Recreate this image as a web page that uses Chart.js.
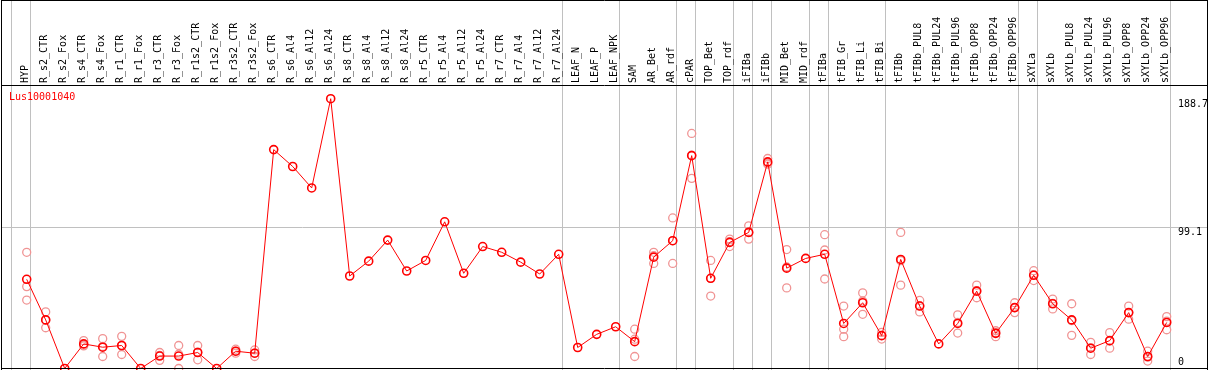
<!DOCTYPE html>
<html>
<head>
<meta charset="utf-8">
<script src="https://cdn.jsdelivr.net/npm/chart.js@4/dist/chart.umd.min.js"></script>
<style>
  html, body { margin: 0; padding: 0; background: #ffffff; }
  #wrap { width: 1209px; height: 370px; }
</style>
</head>
<body>
<div id="wrap"><canvas id="c" width="1209" height="370"></canvas></div>
<script>
const chartTitle = "Lus10001040";

const categories = [
  "HYP","R_s2_CTR","R_s2_Fox","R_s4_CTR","R_s4_Fox","R_r1_CTR","R_r1_Fox","R_r3_CTR","R_r3_Fox",
  "R_r1s2_CTR","R_r1s2_Fox","R_r3s2_CTR","R_r3s2_Fox","R_s6_CTR","R_s6_Al4","R_s6_Al12","R_s6_Al24",
  "R_s8_CTR","R_s8_Al4","R_s8_Al12","R_s8_Al24","R_r5_CTR","R_r5_Al4","R_r5_Al12","R_r5_Al24",
  "R_r7_CTR","R_r7_Al4","R_r7_Al12","R_r7_Al24","LEAF_N","LEAF_P","LEAF_NPK","SAM","AR_Bet","AR_rdf",
  "cPAR","TOP_Bet","TOP_rdf","iFIBa","iFIBb","MID_Bet","MID_rdf","tFIBa","tFIB_Gr","tFIB_Li","tFIB_Bi",
  "tFIBb","tFIBb_PUL8","tFIBb_PUL24","tFIBb_PUL96","tFIBb_OPP8","tFIBb_OPP24","tFIBb_OPP96",
  "sXYLa","sXYLb","sXYLb_PUL8","sXYLb_PUL24","sXYLb_PUL96","sXYLb_OPP8","sXYLb_OPP24","sXYLb_OPP96"
];

const meanValues = [
  62.4, 34.0, 0, 17.2, 14.9, 16.1, 0, 8.7, 8.7,
  11.2, 0, 12.1, 10.7, 153.1, 141.3, 126.3, 188.7,
  64.7, 75.1, 89.8, 68.2, 75.6, 102.6, 66.6, 85.3,
  81.3, 74.4, 66.1, 79.9, 14.7, 23.9, 29.2, 18.8, 77.9, 89.4,
  148.9, 63.1, 88.2, 95.2, 144.5, 70.2, 77.0, 79.9, 31.5, 46.0, 23.0,
  76.3, 43.7, 17.2, 31.5, 54.1, 24.6, 42.6,
  65.2, 45.3, 34.0, 14.2, 19.5, 39.1, 8.4, 32.2
];

const rep1 = [
  81.3, 39.6, null, 19.5, 20.9, 22.5, null, 11.2, 16.1,
  16.1, null, 13.5, 13.0, null, null, null, null,
  null, null, null, null, null, null, null, null,
  null, null, null, null, null, null, null, 27.5, 81.3, 105.3,
  164.4, 75.6, 90.5, 99.8, 146.9, 83.2, null, 93.6, 43.7, 52.9, 25.3,
  95.2, 47.6, null, 37.5, 58.3, 26.4, 46.0,
  68.4, 48.6, 45.3, 18.3, 25.1, 43.7, 12.1, 36.3
];

const rep2 = [
  57.3, 34.0, null, 16.3, 15.4, 16.0, null, 9.2, 10.0,
  11.4, null, 12.1, 10.7, null, null, null, null,
  null, null, null, null, null, null, null, null,
  null, null, null, null, null, null, null, 20.5, 78.9, 89.4,
  149.3, 63.0, 88.8, 95.3, 143.7, 71.0, null, 82.9, 27.5, 47.2, 23.1,
  75.4, 43.9, null, 32.2, 54.5, 25.1, 42.6,
  65.7, 45.6, 33.5, 14.5, 19.2, 39.1, 7.9, 33.2
];

const rep3 = [
  47.9, 28.5, null, 15.8, 8.4, 9.8, null, 5.7, 0,
  6.1, null, 10.7, 8.4, null, null, null, null,
  null, null, null, null, null, null, null, null,
  null, null, null, null, null, null, null, 8.4, 73.5, 73.5,
  133.0, 50.7, 85.3, 90.5, 142.9, 56.4, null, 62.6, 22.3, 37.9, 20.6,
  58.3, 39.6, null, 24.8, 49.5, 22.3, 39.1,
  61.5, 41.7, 23.2, 9.8, 14.2, 34.5, 5.2, 27.1
];

const yTickValues = [0, 99.1, 188.7];
const gridValues = [99.1];
// last category index of each group (group separators)
const groupEnds = [-1, 0, 28, 31, 34, 35, 37, 38, 39, 41, 42, 45, 52, 53, 60];

const FONT = '10px "DejaVu Sans Mono", monospace';

const framePlugin = {
  id: 'frame',
  beforeDatasetsDraw(chart) {
    const ctx = chart.ctx;
    const xs = chart.scales.x, ys = chart.scales.y;
    const W = chart.width, H = chart.height;
    const step = xs.getPixelForValue(1) - xs.getPixelForValue(0);
    ctx.save();
    ctx.strokeStyle = '#c0c0c0';
    ctx.lineWidth = 1;
    groupEnds.forEach(i => {
      const px = xs.getPixelForValue(0) + i * step + 3.6;
      const x = Math.round(px) + 0.5;
      ctx.beginPath(); ctx.moveTo(x, 0); ctx.lineTo(x, H); ctx.stroke();
    });
    gridValues.forEach(v => {
      const y = Math.round(ys.getPixelForValue(v)) + 0.5;
      ctx.beginPath(); ctx.moveTo(1, y); ctx.lineTo(W - 2, y); ctx.stroke();
    });
    ctx.restore();
  },
  afterDraw(chart) {
    const ctx = chart.ctx;
    const xs = chart.scales.x, ys = chart.scales.y;
    const W = chart.width, H = chart.height;
    const top = chart.chartArea.top;
    ctx.save();
    // borders
    ctx.strokeStyle = '#000000';
    ctx.lineWidth = 1;
    ctx.beginPath();
    ctx.moveTo(1.5, 0.5); ctx.lineTo(W - 1.5, 0.5);
    ctx.moveTo(1.5, 0); ctx.lineTo(1.5, H);
    ctx.moveTo(W - 1.5, 0); ctx.lineTo(W - 1.5, H);
    ctx.moveTo(1.5, top + 0.5); ctx.lineTo(W - 1.5, top + 0.5);
    ctx.moveTo(1.5, H - 1.5); ctx.lineTo(W - 1.5, H - 1.5);
    ctx.stroke();
    // header labels
    ctx.font = FONT;
    ctx.fillStyle = '#000000';
    ctx.textAlign = 'left';
    ctx.textBaseline = 'middle';
    categories.forEach((name, i) => {
      const px = xs.getPixelForValue(i) - 1;
      ctx.save();
      ctx.translate(px, top - 2);
      ctx.rotate(-Math.PI / 2);
      ctx.fillText(name, 0, 0);
      ctx.restore();
    });
    // title
    ctx.fillStyle = '#ff0000';
    ctx.fillText(chartTitle, 9, top + 12);
    // y tick labels
    ctx.fillStyle = '#000000';
    yTickValues.forEach(v => {
      let y = ys.getPixelForValue(v) + 6;
      y = Math.min(y, H - 8);
      ctx.fillText(String(v), 1178, y);
    });
    ctx.restore();
  }
};

const repStyle = (data) => ({
  data: data,
  showLine: false,
  pointRadius: 4,
  pointBorderWidth: 1.3,
  pointBorderColor: '#f09494',
  pointBackgroundColor: 'rgba(0,0,0,0)',
  borderColor: '#f09494',
  spanGaps: false
});

new Chart(document.getElementById('c'), {
  type: 'line',
  data: {
    labels: categories,
    datasets: [
      {
        data: meanValues,
        borderColor: '#ff0000',
        borderWidth: 1,
        tension: 0,
        pointRadius: 4,
        pointBorderWidth: 1.6,
        pointBorderColor: '#ff0000',
        pointBackgroundColor: 'rgba(0,0,0,0)'
      },
      repStyle(rep1),
      repStyle(rep2),
      repStyle(rep3)
    ]
  },
  options: {
    responsive: false,
    animation: false,
    devicePixelRatio: 1,
    layout: { autoPadding: false, padding: { left: 17.2, right: 32.8, top: 85, bottom: 0 } },
    plugins: { legend: { display: false }, tooltip: { enabled: false } },
    scales: {
      x: { display: false, offset: true, grid: { display: false } },
      y: { display: false, min: -1.04, max: 198.3, grid: { display: false } }
    }
  },
  plugins: [framePlugin]
});
</script>
</body>
</html>
